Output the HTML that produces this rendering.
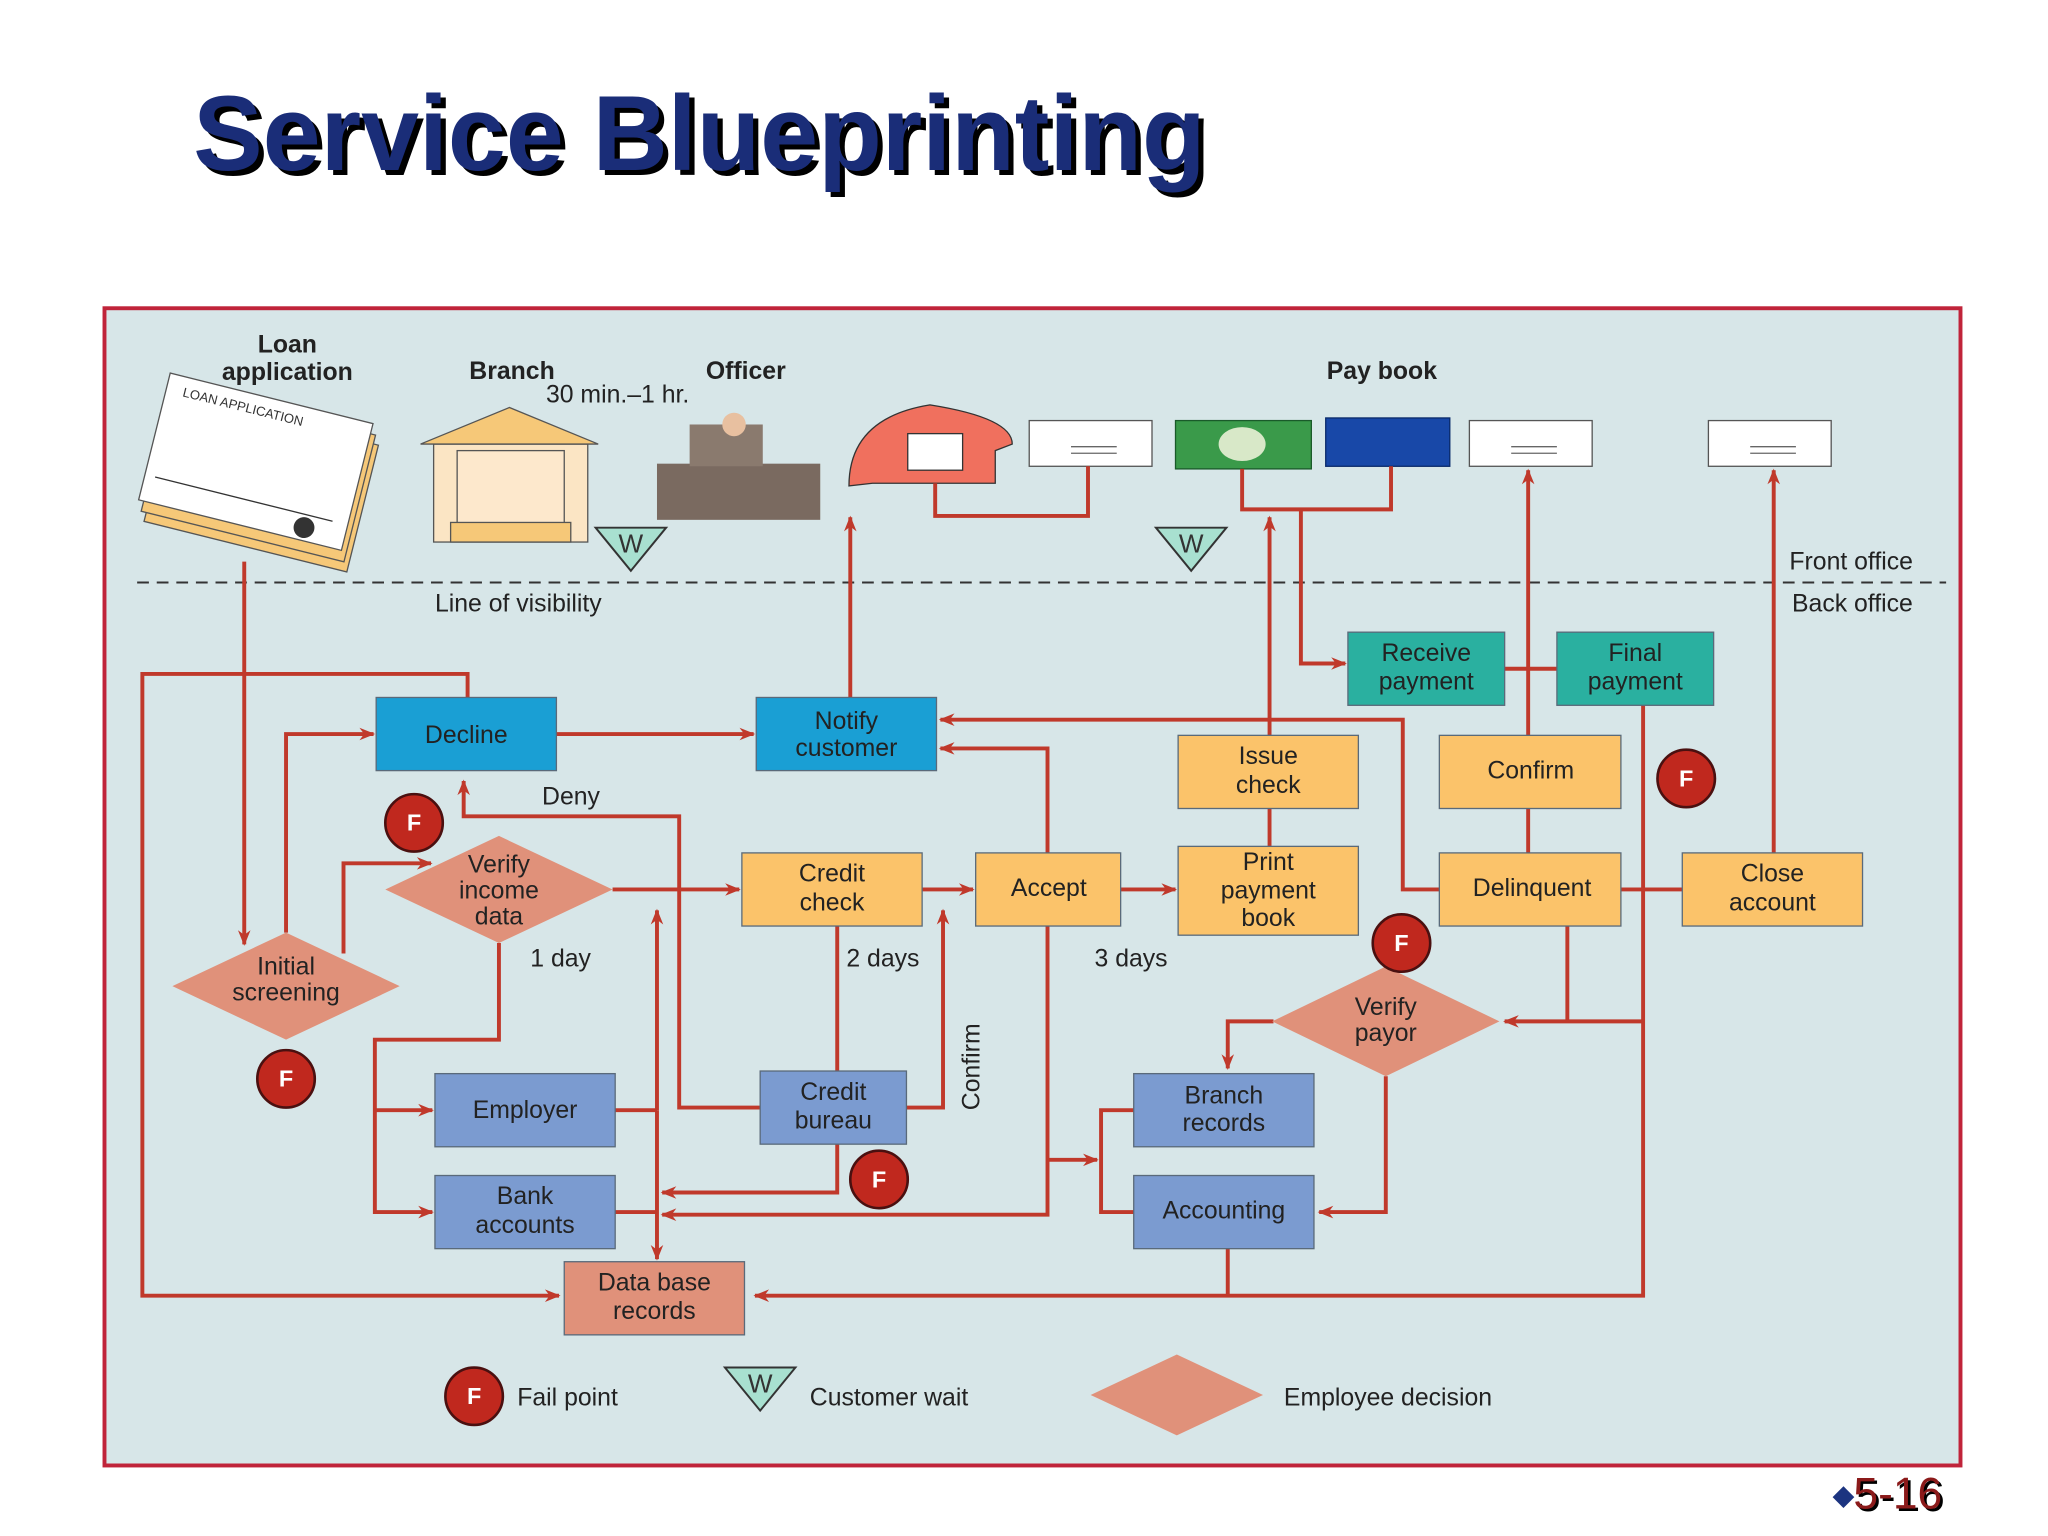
<!DOCTYPE html>
<html><head><meta charset="utf-8"><style>
html,body{margin:0;padding:0;background:#fff;width:2048px;height:1536px;overflow:hidden}
svg text{font-family:"Liberation Sans",sans-serif}
</style></head><body>
<svg width="2048" height="1536" viewBox="0 0 1568 1176" preserveAspectRatio="none" xmlns="http://www.w3.org/2000/svg">
<defs>
<marker id="a" viewBox="0 0 10 10" refX="9" refY="5" markerWidth="14" markerHeight="12" markerUnits="userSpaceOnUse" orient="auto"><path d="M0,1 L10,5 L0,9 L3,5 z" fill="#c0392b"/></marker>
</defs>
<text x="152" y="134" font-size="82" font-weight="bold" fill="#000" textLength="775" lengthAdjust="spacingAndGlyphs">Service Blueprinting</text>
<text x="148" y="130" font-size="82" font-weight="bold" fill="#1a2d78" textLength="775" lengthAdjust="spacingAndGlyphs">Service Blueprinting</text>

<rect x="80" y="236" width="1421" height="886" fill="#d7e6e8" stroke="#c0243a" stroke-width="3"/>
<line x1="105" y1="446" x2="1490" y2="446" stroke="#333" stroke-width="1.5" stroke-dasharray="9,6"/>

<g transform="rotate(14 200 370)">
<rect x="120" y="320" width="160" height="100" fill="#f6c878" stroke="#555"/>
<rect x="116" y="313" width="160" height="100" fill="#f6c878" stroke="#555"/>
<rect x="112" y="305" width="160" height="100" fill="#fff" stroke="#555"/>
<text x="125" y="320" font-size="10" fill="#333">LOAN APPLICATION</text>
<line x1="120" y1="385" x2="260" y2="385" stroke="#333"/>
<circle cx="240" cy="395" r="8" fill="#333"/>
</g>
<rect x="332" y="340" width="118" height="75" fill="#fbe5c4" stroke="#555"/>
<polygon points="322,340 390,312 458,340" fill="#f6c878" stroke="#555"/>
<rect x="350" y="345" width="82" height="62" fill="#fde8cc" stroke="#555"/>
<rect x="345" y="400" width="92" height="15" fill="#f6c878" stroke="#555"/>
<rect x="503" y="355" width="125" height="43" fill="#7a6a60"/>
<rect x="528" y="325" width="56" height="32" fill="#8a7a6e"/>
<circle cx="562" cy="325" r="9" fill="#e8c0a0"/>
<path d="M650,372 Q650,320 712,310 Q775,320 775,340 L762,345 L762,370 L668,370 Z" fill="#f0705e" stroke="#333"/>
<rect x="695" y="332" width="42" height="28" fill="#fff" stroke="#333"/>
<rect x="788" y="322" width="94" height="35" fill="#fff" stroke="#555"/>
<rect x="900" y="322" width="104" height="37" fill="#3a9a4a" stroke="#1a5a2a"/>
<ellipse cx="951" cy="340" rx="18" ry="13" fill="#d8e8c8"/>
<rect x="1015" y="320" width="95" height="37" fill="#1848a8" stroke="#0a2a6a"/>
<rect x="1125" y="322" width="94" height="35" fill="#fff" stroke="#555"/>
<rect x="1308" y="322" width="94" height="35" fill="#fff" stroke="#555"/>
<g stroke="#666"><line x1="820" y1="342" x2="855" y2="342"/><line x1="820" y1="347" x2="855" y2="347"/><line x1="1157" y1="342" x2="1192" y2="342"/><line x1="1157" y1="347" x2="1192" y2="347"/><line x1="1340" y1="342" x2="1375" y2="342"/><line x1="1340" y1="347" x2="1375" y2="347"/></g>

<g fill="none" stroke="#c0392b" stroke-width="3">
<path d="M187,430 V723" marker-end="url(#a)"/>
<path d="M358,534 V516 H109 V992 H428" marker-end="url(#a)"/>
<path d="M219,714 V562 H286" marker-end="url(#a)"/>
<path d="M263,730 V661 H330" marker-end="url(#a)"/>
<path d="M426,562 H577" marker-end="url(#a)"/>
<path d="M582,848 H520 V625 H355 V598" marker-end="url(#a)"/>
<path d="M469,681 H566" marker-end="url(#a)"/>
<path d="M382,722 V796 H287 V928 H331" marker-end="url(#a)"/>
<path d="M287,850 H331" marker-end="url(#a)"/>
<path d="M471,850 H503"/><path d="M471,928 H503"/>
<path d="M503,850 V697" marker-end="url(#a)"/>
<path d="M503,850 V964" marker-end="url(#a)"/>
<path d="M706,681 H745" marker-end="url(#a)"/>
<path d="M641,709 V820"/>
<path d="M694,848 H722 V697" marker-end="url(#a)"/>
<path d="M641,876 V913 H507" marker-end="url(#a)"/>
<path d="M802,653 V573 H720" marker-end="url(#a)"/>
<path d="M802,709 V930 H507" marker-end="url(#a)"/>
<path d="M802,888 H840" marker-end="url(#a)"/>
<path d="M868,850 H843 V928 H868"/>
<path d="M858,681 H900" marker-end="url(#a)"/>
<path d="M972,648 V619"/>
<path d="M972,563 V396" marker-end="url(#a)"/>
<path d="M651,534 V396" marker-end="url(#a)"/>
<path d="M716,370 V395 H833 V357"/>
<path d="M951,359 V390 H1065 V357"/>
<path d="M996,390 V508 H1030" marker-end="url(#a)"/>
<path d="M1152,512 H1192"/>
<path d="M1170,563 V360" marker-end="url(#a)"/>
<path d="M1170,619 V653"/>
<path d="M1102,681 H1074 V551 H720" marker-end="url(#a)"/>
<path d="M1258,540 V992 H578" marker-end="url(#a)"/>
<path d="M1241,681 H1288"/>
<path d="M1358,653 V360" marker-end="url(#a)"/>
<path d="M1200,709 V782"/>
<path d="M1258,782 H1152" marker-end="url(#a)"/>
<path d="M975,782 H940 V818" marker-end="url(#a)"/>
<path d="M1061,824 V928 H1010" marker-end="url(#a)"/>
<path d="M940,956 V992"/>
</g>

<g stroke="#5a6a7a" stroke-width="1">
<rect x="288" y="534" width="138" height="56" fill="#1a9fd4"/>
<rect x="579" y="534" width="138" height="56" fill="#1a9fd4"/>
<rect x="1032" y="484" width="120" height="56" fill="#2ab0a0"/>
<rect x="1192" y="484" width="120" height="56" fill="#2ab0a0"/>
<rect x="902" y="563" width="138" height="56" fill="#fbc36a"/>
<rect x="1102" y="563" width="139" height="56" fill="#fbc36a"/>
<rect x="568" y="653" width="138" height="56" fill="#fbc36a"/>
<rect x="747" y="653" width="111" height="56" fill="#fbc36a"/>
<rect x="902" y="648" width="138" height="68" fill="#fbc36a"/>
<rect x="1102" y="653" width="139" height="56" fill="#fbc36a"/>
<rect x="1288" y="653" width="138" height="56" fill="#fbc36a"/>
<rect x="333" y="822" width="138" height="56" fill="#7b9bd0"/>
<rect x="582" y="820" width="112" height="56" fill="#7b9bd0"/>
<rect x="333" y="900" width="138" height="56" fill="#7b9bd0"/>
<rect x="868" y="822" width="138" height="56" fill="#7b9bd0"/>
<rect x="868" y="900" width="138" height="56" fill="#7b9bd0"/>
<rect x="432" y="966" width="138" height="56" fill="#e0917a"/>
</g>
<g fill="#e0917a">
<polygon points="295,681 382,640 469,681 382,722"/>
<polygon points="132,755 219,714 306,755 219,796"/>
<polygon points="974,782 1061,740 1148,782 1061,824"/>
<polygon points="835,1068 901,1037 967,1068 901,1099"/>
</g>

<g fill="#c0281e" stroke="#4a1010" stroke-width="2">
<circle cx="317" cy="630" r="22"/><circle cx="219" cy="826" r="22"/><circle cx="673" cy="903" r="22"/>
<circle cx="1073" cy="722" r="22"/><circle cx="1291" cy="596" r="22"/><circle cx="363" cy="1069" r="22"/>
</g>
<g fill="#fff" font-size="18" font-weight="bold" text-anchor="middle">
<text x="317" y="636">F</text><text x="219" y="832">F</text><text x="673" y="909">F</text>
<text x="1073" y="728">F</text><text x="1291" y="602">F</text><text x="363" y="1075">F</text>
</g>
<g fill="#a8e0d0" stroke="#333" stroke-width="1.5">
<polygon points="456,404 510,404 483,437"/><polygon points="885,404 939,404 912,437"/><polygon points="555,1047 609,1047 582,1080"/>
</g>
<g font-size="20" fill="#333" text-anchor="middle">
<text x="483" y="423">W</text><text x="912" y="423">W</text><text x="582" y="1066">W</text>
</g>

<g font-size="19" fill="#222" text-anchor="middle">
<text x="357" y="569">Decline</text>
<text x="648" y="558">Notify</text><text x="648" y="579">customer</text>
<text x="1092" y="506">Receive</text><text x="1092" y="528">payment</text>
<text x="1252" y="506">Final</text><text x="1252" y="528">payment</text>
<text x="971" y="585">Issue</text><text x="971" y="607">check</text>
<text x="1172" y="596">Confirm</text>
<text x="637" y="675">Credit</text><text x="637" y="697">check</text>
<text x="803" y="686">Accept</text>
<text x="971" y="666">Print</text><text x="971" y="688">payment</text><text x="971" y="709">book</text>
<text x="1173" y="686">Delinquent</text>
<text x="1357" y="675">Close</text><text x="1357" y="697">account</text>
<text x="402" y="856">Employer</text>
<text x="638" y="842">Credit</text><text x="638" y="864">bureau</text>
<text x="402" y="922">Bank</text><text x="402" y="944">accounts</text>
<text x="937" y="845">Branch</text><text x="937" y="866">records</text>
<text x="937" y="933">Accounting</text>
<text x="501" y="988">Data base</text><text x="501" y="1010">records</text>
<text x="382" y="668">Verify</text><text x="382" y="688">income</text><text x="382" y="708">data</text>
<text x="219" y="746">Initial</text><text x="219" y="766">screening</text>
<text x="1061" y="777">Verify</text><text x="1061" y="797">payor</text>
</g>
<g font-size="19" fill="#222">
<text x="415" y="616">Deny</text>
<text x="406" y="740">1 day</text>
<text x="648" y="740">2 days</text>
<text x="838" y="740">3 days</text>
<text transform="translate(750,850) rotate(-90)">Confirm</text>
<text x="333" y="468">Line of visibility</text>
<text x="1370" y="436">Front office</text>
<text x="1372" y="468">Back office</text>
<text x="418" y="308">30 min.–1 hr.</text>
<text x="396" y="1076">Fail point</text>
<text x="620" y="1076">Customer wait</text>
<text x="983" y="1076">Employee decision</text>
</g>
<g font-size="19" font-weight="bold" fill="#222" text-anchor="middle">
<text x="220" y="270">Loan</text><text x="220" y="291">application</text>
<text x="392" y="290">Branch</text><text x="571" y="290">Officer</text>
<text x="1058" y="290">Pay book</text>
</g>
<text x="1403" y="1152" font-size="22" fill="#1c3480">◆</text>
<text x="1421" y="1157" font-size="34" fill="#000">5-16</text>
<text x="1419" y="1155" font-size="34" fill="#8b1a1a">5-16</text>
</svg>
</body></html>
